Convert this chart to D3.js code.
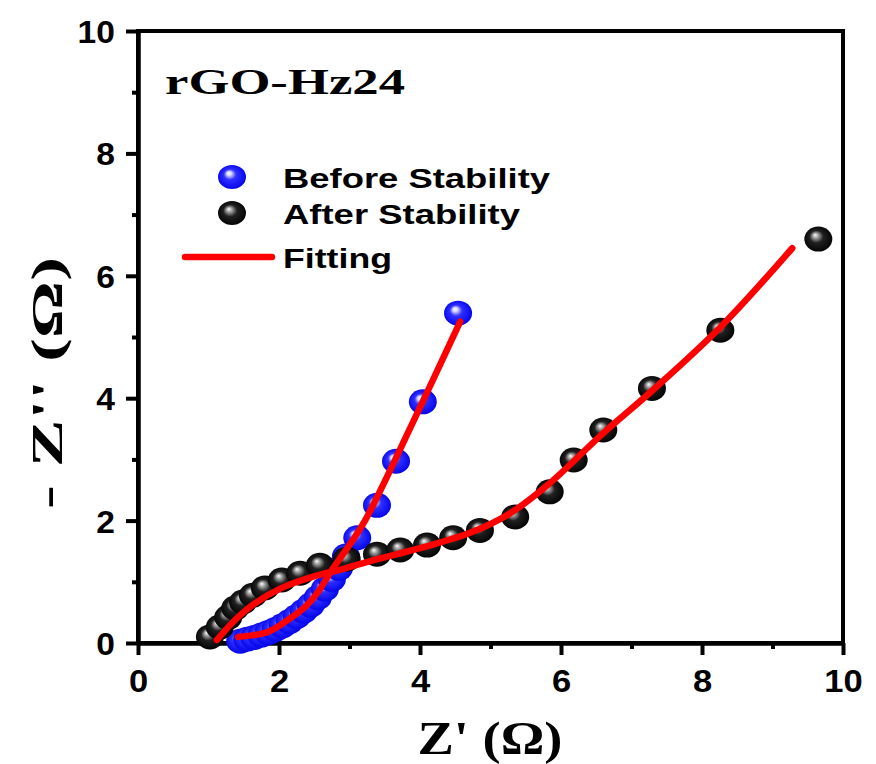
<!DOCTYPE html>
<html>
<head>
<meta charset="UTF-8">
<script src="https://cdn.jsdelivr.net/npm/d3@7"></script>
<style>
    body{margin:0;background:#fff;}
</style>
</head>
<body>
<script>
    // Nyquist data
    var beforeX=[1.45,1.55,1.65,1.75,1.85,1.95,2.05,2.15,2.25,2.35,2.45,2.55,2.65,2.75,2.85,2.95,3.11,3.39,3.66,4.04,4.54];
    var beforeY=[0.03,0.06,0.09,0.13,0.17,0.22,0.28,0.35,0.43,0.52,0.62,0.74,0.88,1.04,1.22,1.42,1.72,2.25,2.97,3.94,5.39];
    var afterX=[1.02,1.16,1.28,1.38,1.49,1.63,1.80,2.04,2.30,2.58,2.96,3.39,3.72,4.10,4.47,4.85,5.35,5.84,6.18,6.60,7.29,8.26,9.65];
    var afterY=[0.10,0.26,0.42,0.57,0.67,0.78,0.90,1.03,1.14,1.27,1.37,1.45,1.52,1.60,1.72,1.84,2.06,2.47,2.99,3.48,4.16,5.11,6.60];
    var fitBeforeX=[1.42,1.84,2.13,2.37,2.55,2.75,2.98,3.22,4.02,4.57];
    var fitBeforeY=[0.10,0.18,0.38,0.59,0.83,1.19,1.57,2.00,3.90,5.25];
    var fitAfterX=[1.12,1.38,1.66,2.04,2.47,2.94,3.36,4.00,4.71,5.28,5.84,6.60,7.30,8.26,9.28];
    var fitAfterY=[0.05,0.38,0.65,0.90,1.08,1.22,1.36,1.55,1.80,2.12,2.61,3.43,4.13,5.16,6.45];
    var majorTicks=[0,2,4,6,8,10];
    var minorTicks=[1,3,5,7,9];
    var legendNames=["Before Stability","After Stability","Fitting"];

    var W=876,H=764;
    var svg=d3.select("body").append("svg").attr("width",W).attr("height",H);
    var x=d3.scaleLinear().domain([0,10]).range([138,843]);
    var y=d3.scaleLinear().domain([0,10]).range([643,31]);

    // shiny ball gradients
    var defs=svg.append("defs");
    function ball(id,stops){
        var g=defs.append("radialGradient").attr("id",id)
                .attr("cx","0.5").attr("cy","0.5").attr("r","0.55")
                .attr("fx","0.38").attr("fy","0.33");
        stops.forEach(function(s){
            g.append("stop").attr("offset",s[0]).attr("stop-color",s[1]);
        });
    }
    ball("gBlue",[[0,"#ffffff"],[0.15,"#d8d8ff"],[0.4,"#3030ff"],[1,"#0000e8"]]);
    ball("gBlack",[[0,"#ffffff"],[0.15,"#b0b0b0"],[0.45,"#202020"],[1,"#000000"]]);

    // frame
    svg.append("rect").attr("x",x(0)).attr("y",y(10))
            .attr("width",x(10)-x(0)).attr("height",y(0)-y(10))
            .attr("fill","none").attr("stroke","#000").attr("stroke-width",4);

    // axes
    var gx=svg.append("g").attr("transform","translate(0,"+y(0)+")")
            .call(d3.axisBottom(x).tickValues(majorTicks).tickSize(12).tickSizeOuter(0).tickPadding(14));
    svg.append("g").attr("transform","translate(0,"+y(0)+")")
            .call(d3.axisBottom(x).tickValues(minorTicks).tickSize(6).tickSizeOuter(0).tickFormat(""));
    var gy=svg.append("g").attr("transform","translate("+x(0)+",0)")
            .call(d3.axisLeft(y).tickValues(majorTicks).tickSize(12).tickSizeOuter(0).tickPadding(10));
    svg.append("g").attr("transform","translate("+x(0)+",0)")
            .call(d3.axisLeft(y).tickValues(minorTicks).tickSize(6).tickSizeOuter(0).tickFormat(""));
    svg.selectAll(".domain").attr("stroke-width",4);
    svg.selectAll(".tick line").attr("stroke-width",4);
    svg.selectAll(".tick text")
            .style("font-family","'Liberation Sans',Arial,sans-serif")
            .style("font-weight","bold").style("font-size","32px").style("fill","#000");
    gx.selectAll(".tick text").attr("transform","scale(1.08,1)");
    gy.selectAll(".tick text").attr("transform","scale(1.05,1)").attr("dy","0.36em");

    // text helper (picture is stretched sideways)
    function label(px,py,str,opt){
        var t=svg.append("text").attr("x",px).attr("y",py).text(str)
                .attr("font-family",opt.family).attr("font-weight","bold")
                .attr("font-size",opt.size).attr("fill","#000")
                .attr("text-anchor",opt.anchor||"start");
        if(opt.len) t.attr("textLength",opt.len).attr("lengthAdjust","spacingAndGlyphs");
        if(opt.rot) t.attr("transform","rotate(-90,"+px+","+py+")");
        return t;
    }
    var serif="'Liberation Serif','Times New Roman',serif";
    var sans="'Liberation Sans',Arial,sans-serif";
    label(490,754,"Z' (\u03A9)",{family:serif,size:46,anchor:"middle",len:145});
    label(62,383,"- Z'' (\u03A9)",{family:serif,size:44,anchor:"middle",rot:true,len:252});
    label(165,94,"rGO-Hz24",{family:serif,size:36,len:240});

    // points
    var before=beforeX.map(function(v,i){return [v,beforeY[i]];});
    var after=afterX.map(function(v,i){return [v,afterY[i]];});
    svg.append("g").selectAll("ellipse").data(before).enter().append("ellipse")
            .attr("cx",function(d){return x(d[0]);}).attr("cy",function(d){return y(d[1]);})
            .attr("rx",14).attr("ry",12.5).attr("fill","url(#gBlue)");
    svg.append("g").selectAll("ellipse").data(after).enter().append("ellipse")
            .attr("cx",function(d){return x(d[0]);}).attr("cy",function(d){return y(d[1]);})
            .attr("rx",14).attr("ry",12.5).attr("fill","url(#gBlack)");

    // fitting curves
    var line=d3.line().x(function(d){return x(d[0]);}).y(function(d){return y(d[1]);})
            .curve(d3.curveCatmullRom.alpha(0.5));
    [[fitBeforeX,fitBeforeY],[fitAfterX,fitAfterY]].forEach(function(f){
        var pts=f[0].map(function(v,i){return [v,f[1][i]];});
        svg.append("path").attr("d",line(pts)).attr("fill","none")
                .attr("stroke","#ff0000").attr("stroke-width",6.5).attr("stroke-linecap","round");
    });

    // legend
    svg.append("ellipse").attr("cx",232).attr("cy",177).attr("rx",14).attr("ry",12).attr("fill","url(#gBlue)");
    svg.append("ellipse").attr("cx",232).attr("cy",213).attr("rx",14).attr("ry",12).attr("fill","url(#gBlack)");
    svg.append("line").attr("x1",185).attr("x2",272).attr("y1",257).attr("y2",257)
            .attr("stroke","#ff0000").attr("stroke-width",6.5).attr("stroke-linecap","round");
    label(283,188,legendNames[0],{family:sans,size:27,len:267});
    label(283,224,legendNames[1],{family:sans,size:27,len:237});
    label(283,268,legendNames[2],{family:sans,size:27,len:109});
</script>
</body>
</html>
